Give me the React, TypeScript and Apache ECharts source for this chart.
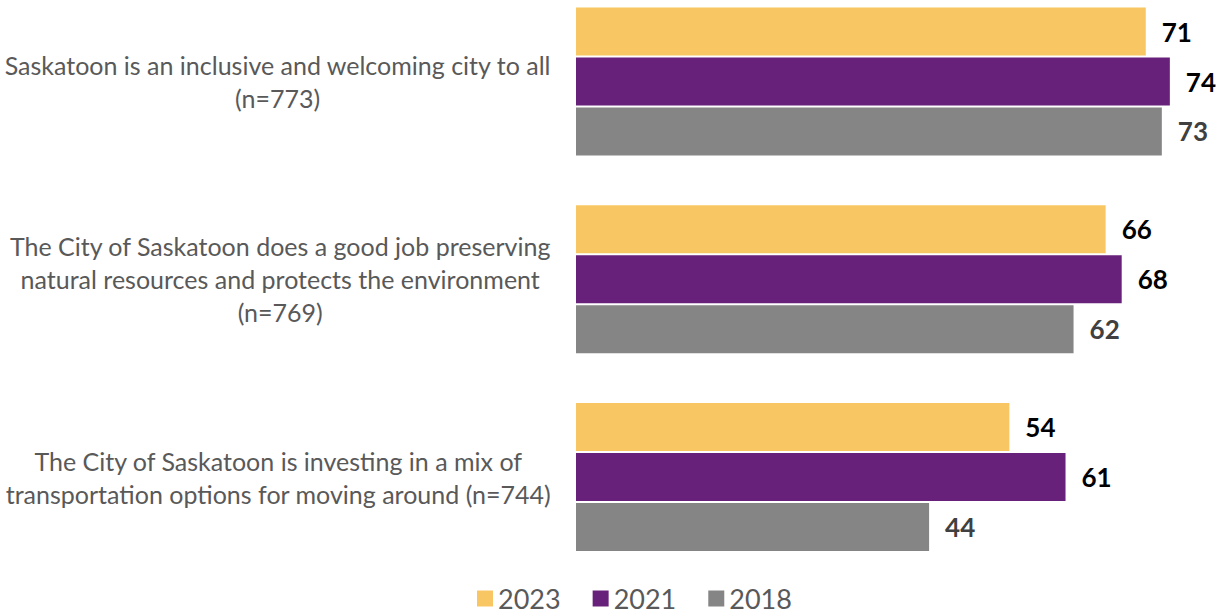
import React, { useEffect, useRef } from "react";
import * as echarts from "echarts";

const categories = [
  "Saskatoon is an inclusive and welcoming city to all\n(n=773)",
  "The City of Saskatoon does a good job preserving\nnatural resources and protects the environment\n(n=769)",
  "The City of Saskatoon is investing in a mix of\ntransportation options for moving around (n=744)",
];
const seriesNames = ["2023", "2021", "2018"];
const values2023 = [71, 66, 54];
const values2021 = [74, 68, 61];
const values2018 = [73, 62, 44];

const FONT = "Lato, 'Noto Sans', sans-serif";

export default function App() {
  const ref = useRef<HTMLDivElement>(null);
  useEffect(() => {
    document.body.style.margin = "0";
    const chart = echarts.init(ref.current!, null, { renderer: "svg" });
    const mk = (name: string, data: number[], color: string, labelColor: string) => ({
      name,
      type: "bar",
      data,
      barWidth: 48,
      barGap: "4%",
      itemStyle: { color },
      label: {
        show: true,
        position: "right",
        distance: 16,
        fontFamily: FONT,
        fontWeight: "bold",
        fontSize: 26,
        color: labelColor,
      },
    });
    chart.setOption({
      animation: false,
      textStyle: { fontFamily: FONT },
      grid: { left: 576, width: 642, top: 81.5, height: 395.5 },
      xAxis: {
        type: "value",
        min: 0,
        max: 80,
        show: false,
        splitLine: { show: false },
      },
      yAxis: {
        type: "category",
        inverse: true,
        boundaryGap: false,
        data: categories,
        axisLine: { show: false },
        axisTick: { show: false },
        splitLine: { show: false },
        axisLabel: {
          margin: 25,
          align: "right",
          formatter: (v: string) =>
            v
              .split("\n")
              .map((l) => `{c|${l}}`)
              .join("\n"),
          rich: {
            c: {
              align: "center",
              fontFamily: FONT,
              fontSize: 25,
              lineHeight: 33,
              color: "#595959",
            },
          },
        },
      },
      legend: {
        data: seriesNames,
        top: 580,
        left: 472,
        icon: "rect",
        itemWidth: 16,
        itemHeight: 16,
        itemGap: 32,
        textStyle: { fontFamily: FONT, fontSize: 27, color: "#595959" },
      },
      series: [
        mk(seriesNames[0], values2023, "#F8C763", "#000000"),
        mk(seriesNames[1], values2021, "#68217A", "#000000"),
        mk(seriesNames[2], values2018, "#858585", "#404040"),
      ],
    });
    return () => chart.dispose();
  }, []);
  return <div ref={ref} style={{ width: 1232, height: 615 }} />;
}
